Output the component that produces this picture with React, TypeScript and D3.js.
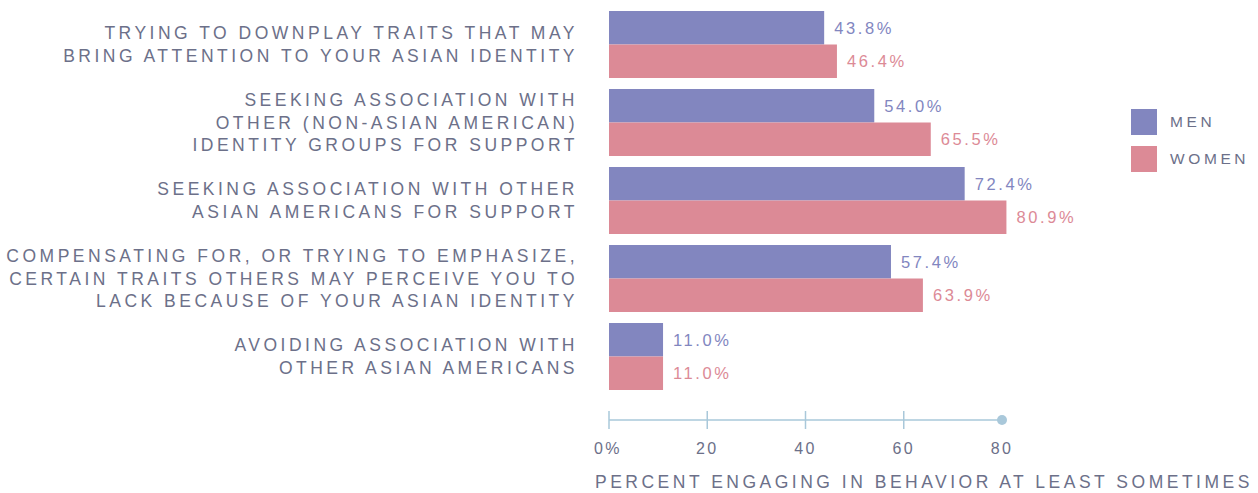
import React from "react";
import * as d3 from "d3";

const categories: string[][] = [
  ["TRYING TO DOWNPLAY TRAITS THAT MAY", "BRING ATTENTION TO YOUR ASIAN IDENTITY"],
  ["SEEKING ASSOCIATION WITH", "OTHER (NON-ASIAN AMERICAN)", "IDENTITY GROUPS FOR SUPPORT"],
  ["SEEKING ASSOCIATION WITH OTHER", "ASIAN AMERICANS FOR SUPPORT"],
  ["COMPENSATING FOR, OR TRYING TO EMPHASIZE,", "CERTAIN TRAITS OTHERS MAY PERCEIVE YOU TO", "LACK BECAUSE OF YOUR ASIAN IDENTITY"],
  ["AVOIDING ASSOCIATION WITH", "OTHER ASIAN AMERICANS"],
];
const men: number[] = [43.8, 54.0, 72.4, 57.4, 11.0];
const women: number[] = [46.4, 65.5, 80.9, 63.9, 11.0];
const ticks: number[] = [0, 20, 40, 60, 80];
const seriesNames = ["MEN", "WOMEN"];

const MEN_C = "#8286bf";
const WOMEN_C = "#dc8a96";
const TEXT_C = "#6c7089";
const AXIS_C = "#a9c8da";
const FONT = "'Liberation Sans', Arial, sans-serif";

export default function App() {
  const W = 1258, H = 493;
  const x = d3.scaleLinear().domain([0, 80]).range([609, 1002]);
  const y = d3.scaleBand<number>().domain(d3.range(categories.length)).range([11, 390]).paddingInner(0.141).paddingOuter(0);
  const bh = y.bandwidth() / 2;
  const axisY = 420;
  return (
    <svg width={W} height={H} style={{ position: "absolute", left: 0, top: 0 }} fontFamily={FONT}>
      {categories.map((lines, i) => {
        const y0 = y(i)!;
        const cy = y0 + y.bandwidth() / 2;
        const lh = 22.5;
        return (
          <g key={i}>
            <rect x={x(0)} y={y0} width={x(men[i]) - x(0)} height={bh} fill={MEN_C} />
            <rect x={x(0)} y={y0 + bh} width={x(women[i]) - x(0)} height={bh} fill={WOMEN_C} />
            <text x={x(men[i]) + 10} y={y0 + bh / 2} dy="0.35em" fill={MEN_C} fontSize={16.5} letterSpacing={2.6}>
              {men[i].toFixed(1)}%
            </text>
            <text x={x(women[i]) + 10} y={y0 + bh * 1.5} dy="0.35em" fill={WOMEN_C} fontSize={16.5} letterSpacing={2.6}>
              {women[i].toFixed(1)}%
            </text>
            {lines.map((l, j) => (
              <text key={j} x={578} y={cy + (j - (lines.length - 1) / 2) * lh} dy="0.35em" textAnchor="end" fill={TEXT_C} fontSize={17.5} letterSpacing={3.5}>
                {l}
              </text>
            ))}
          </g>
        );
      })}
      <line x1={x(0)} x2={x(80)} y1={axisY} y2={axisY} stroke={AXIS_C} strokeWidth={1.5} />
      {ticks.slice(0, -1).map((t) => (
        <line key={t} x1={x(t)} x2={x(t)} y1={axisY - 9} y2={axisY + 9} stroke={AXIS_C} strokeWidth={1.5} />
      ))}
      <circle cx={x(80)} cy={axisY} r={5} fill={AXIS_C} />
      {ticks.map((t) => (
        <text key={t} x={t === 0 ? x(t) - 15 : x(t)} y={448} dy="0.35em" textAnchor={t === 0 ? "start" : "middle"} fill={TEXT_C} fontSize={16} letterSpacing={2.4}>
          {t === 0 ? "0%" : String(t)}
        </text>
      ))}
      <text x={595} y={482} dy="0.35em" fill={TEXT_C} fontSize={17.5} letterSpacing={3.5}>
        PERCENT ENGAGING IN BEHAVIOR AT LEAST SOMETIMES
      </text>
      {seriesNames.map((s, i) => (
        <g key={s}>
          <rect x={1131} y={109 + i * 37} width={26} height={26} fill={i === 0 ? MEN_C : WOMEN_C} />
          <text x={1170} y={122 + i * 37} dy="0.35em" fill={TEXT_C} fontSize={15.5} letterSpacing={3.6}>
            {s}
          </text>
        </g>
      ))}
    </svg>
  );
}
